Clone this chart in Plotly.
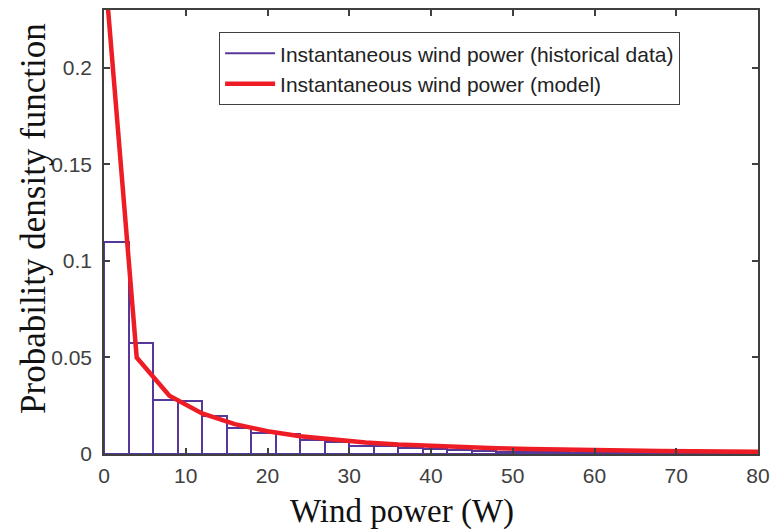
import plotly.graph_objects as go

# Histogram (historical data): bin width 3, starting at 0
bin_left = [0, 3, 6, 9, 12, 15, 18, 21, 24, 27, 30, 33, 36, 39, 42, 45, 48, 51,
            54, 57, 60, 63, 66, 69, 72, 75, 78]
hist_pdf = [0.110, 0.0577, 0.0278, 0.0275, 0.0199, 0.0137, 0.0110, 0.0102, 0.0072,
            0.0063, 0.0044, 0.0040, 0.0029, 0.0026, 0.0022, 0.0018, 0.0011, 0.0010,
            0.0008, 0.0006, 0.0005, 0.0004, 0.0004, 0.0003, 0.0002, 0.0002, 0.0001]
bin_width = 3

# Model curve
model_x = [0, 4, 8, 12, 16, 20, 24, 28, 32, 36, 40, 44, 48, 52, 56, 60, 64, 68, 72, 76, 80]
model_pdf = [0.256, 0.050, 0.0302, 0.0210, 0.0155, 0.0118, 0.0092, 0.0074, 0.0060,
             0.0049, 0.0041, 0.0035, 0.0030, 0.0026, 0.0022, 0.0019, 0.0017, 0.0015,
             0.0014, 0.0013, 0.0012]

x_ticks = [0, 10, 20, 30, 40, 50, 60, 70, 80]
y_ticks = [0, 0.05, 0.1, 0.15, 0.2]

x_title = "Wind power (W)"
y_title = "Probability density function"

purple = "#56389A"
red = "#EE1D25"
axis_col = "#404040"
serif = "Liberation Serif, Times New Roman"

fig = go.Figure()
fig.add_trace(go.Bar(
    x=[b + bin_width / 2 for b in bin_left], y=hist_pdf, width=bin_width,
    marker=dict(color="white", line=dict(color=purple, width=2)),
    showlegend=False, hoverinfo="skip"))
fig.add_trace(go.Scatter(
    x=[None], y=[None], mode="lines", line=dict(color=purple, width=2),
    name="Instantaneous wind power (historical data)"))
fig.add_trace(go.Scatter(
    x=model_x, y=model_pdf, mode="lines", line=dict(color=red, width=4.5),
    name="Instantaneous wind power (model)"))

axis_common = dict(showline=True, linecolor=axis_col, linewidth=1.5, mirror="ticks",
                   ticks="inside", ticklen=6, tickcolor=axis_col, tickwidth=1.5,
                   showgrid=False, zeroline=False, automargin=False,
                   tickfont=dict(family="Liberation Sans, Arial", size=21, color=axis_col))

fig.update_layout(
    width=770, height=531,
    margin=dict(l=104, r=12, t=10, b=77),
    plot_bgcolor="white", paper_bgcolor="white",
    bargap=0,
    xaxis=dict(range=[0, 80], tickvals=x_ticks, **axis_common, ticklabelstandoff=2),
    yaxis=dict(range=[0, 0.23], tickvals=y_ticks, **axis_common, ticklabelstandoff=6),
    legend=dict(x=0.176, y=0.95, xanchor="left", yanchor="top",
                bgcolor="white", bordercolor=axis_col, borderwidth=1,
                font=dict(family="Liberation Sans, Arial", size=21, color="#222222"),
                itemwidth=50, tracegroupgap=0),
    showlegend=True,
    annotations=[
        dict(text=x_title, xref="paper", yref="paper", x=0.4557, y=-0.1306,
             xanchor="center", yanchor="middle", showarrow=False,
             font=dict(family=serif, size=33, color="#111111")),
        dict(text=y_title, xref="paper", yref="paper", x=-0.1086, y=0.5315,
             xanchor="center", yanchor="middle", textangle=-90, showarrow=False,
             font=dict(family=serif, size=35, color="#111111")),
    ],
)

fig.write_html("out.html")
